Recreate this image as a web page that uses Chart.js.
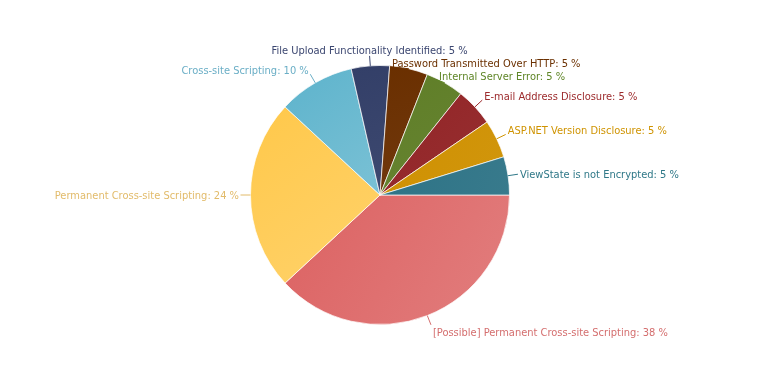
<!DOCTYPE html>
<html>
<head>
<meta charset="utf-8">
<script src="https://cdn.jsdelivr.net/npm/chart.js@4.4.1/dist/chart.umd.min.js"></script>
<style>
    html, body { margin: 0; padding: 0; background: #fff; }
    #wrap { width: 760px; height: 390px; }
</style>
</head>
<body>
<div id="wrap"><canvas id="pieChart" width="760" height="390"></canvas></div>
<script>
// Vulnerability counts, clockwise from 3 o'clock
const categories = [
    '[Possible] Permanent Cross-site Scripting',
    'Permanent Cross-site Scripting',
    'Cross-site Scripting',
    'File Upload Functionality Identified',
    'Password Transmitted Over HTTP',
    'Internal Server Error',
    'E-mail Address Disclosure',
    'ASP.NET Version Disclosure',
    'ViewState is not Encrypted'
];
const counts = [8, 5, 2, 1, 1, 1, 1, 1, 1];
const sliceColors = ['#dc6262', '#ffc84a', '#5db3cc', '#333f68', '#6a2f00', '#5f7e27', '#922426', '#cf9000', '#2d7386'];
const labelColors = ['#d46e6e', '#e2bb6a', '#6aaec6', '#3b4670', '#6b3000', '#5e8526', '#9c2a2c', '#cf9300', '#2f7888'];

const total = counts.reduce((a, b) => a + b, 0);
const percents = counts.map(v => Math.round(v / total * 100));
const FONT = '11px "DejaVu Sans Condensed", "DejaVu Sans", sans-serif';

function lighten(hex, amt) {
    const n = parseInt(hex.slice(1), 16);
    const r = (n >> 16) & 255, g = (n >> 8) & 255, b = n & 255;
    const mix = c => Math.round(c + (255 - c) * amt);
    return 'rgb(' + mix(r) + ',' + mix(g) + ',' + mix(b) + ')';
}

// each slice gets a soft top-left -> bottom-right gradient
function sliceFill(c) {
    const i = c.dataIndex;
    const area = c.chart.chartArea;
    if (!area) return sliceColors[i];
    const cx = (area.left + area.right) / 2, cy = (area.top + area.bottom) / 2;
    const r = Math.min(area.right - area.left, area.bottom - area.top) / 2;
    let before = 0;
    for (let k = 0; k < i; k++) before += counts[k];
    const a0 = before / total * Math.PI * 2;
    const a1 = a0 + counts[i] / total * Math.PI * 2;
    const xs = [cx, cx + Math.cos(a0) * r, cx + Math.cos(a1) * r];
    const ys = [cy, cy + Math.sin(a0) * r, cy + Math.sin(a1) * r];
    for (let q = 0; q < 8; q++) {
        const a = q * Math.PI / 2;
        if (a > a0 && a < a1) { xs.push(cx + Math.cos(a) * r); ys.push(cy + Math.sin(a) * r); }
    }
    const amt = counts[i] / total >= 0.09 ? 0.18 : 0.05;
    const g = c.chart.ctx.createLinearGradient(Math.min(...xs), Math.min(...ys), Math.max(...xs), Math.max(...ys));
    g.addColorStop(0, sliceColors[i]);
    g.addColorStop(1, lighten(sliceColors[i], amt));
    return g;
}

const outsideLabels = {
    id: 'outsideLabels',
    afterDatasetsDraw(chart) {
        const ctx = chart.ctx;
        const meta = chart.getDatasetMeta(0);
        ctx.save();
        ctx.font = FONT;
        const items = meta.data.map((arc, i) => {
            const p = arc.getProps(['x', 'y', 'startAngle', 'endAngle', 'outerRadius'], true);
            const mid = (p.startAngle + p.endAngle) / 2;
            const cos = Math.cos(mid), sin = Math.sin(mid);
            const text = categories[i] + ': ' + percents[i] + ' %';
            const it = {
                i, text, cos, sin, cx: p.x, cy: p.y, r: p.outerRadius,
                w: ctx.measureText(text).width,
                ex: p.x + cos * p.outerRadius, ey: p.y + sin * p.outerRadius,
                lx: p.x + cos * (p.outerRadius + 10), ly: p.y + sin * (p.outerRadius + 10),
                align: Math.abs(cos) < 0.15 ? 'center' : (cos > 0 ? 'left' : 'right')
            };
            if (it.align === 'center') it.by = it.ly - 2;
            else if (sin < -0.3) it.by = it.ly;
            else if (sin > 0.3) it.by = it.ly + 11;
            else it.by = it.ly + 4;
            return it;
        });

        const box = it => {
            const tx = it.align === 'left' ? it.lx + 2 : it.align === 'right' ? it.lx - 1.5 : it.lx;
            const left = it.align === 'left' ? tx : it.align === 'right' ? tx - it.w : tx - it.w / 2;
            return { tx, left, right: left + it.w, top: it.by - 10, bottom: it.by + 3 };
        };
        const hit = (a, b) => a.left < b.right && b.left < a.right && a.top < b.bottom - 0.01 && b.top < a.bottom - 0.01;

        // push overlapping labels down and slide them back onto the rim
        const placed = [];
        items.slice().sort((a, b) => box(a).top - box(b).top).forEach(it => {
            for (let n = 0; n < 10; n++) {
                const other = placed.find(o => hit(box(o), box(it)));
                if (!other) break;
                it.by = box(other).bottom + 10;
                const dy = it.by - it.cy;
                const rm = it.r - 1;
                it.lx = it.cx + Math.sign(it.cos) * Math.sqrt(Math.max(0, rm * rm - dy * dy));
                it.ly = it.by;
            }
            placed.push(it);
        });

        items.forEach(it => {
            const b = box(it);
            ctx.strokeStyle = labelColors[it.i];
            ctx.lineWidth = 1;
            ctx.beginPath();
            ctx.moveTo(it.ex, it.ey);
            ctx.lineTo(it.lx, it.ly);
            ctx.stroke();
            ctx.fillStyle = labelColors[it.i];
            ctx.textAlign = it.align;
            ctx.textBaseline = 'alphabetic';
            ctx.fillText(it.text, b.tx, it.by);
        });
        ctx.restore();
    }
};

const pieChart = new Chart(document.getElementById('pieChart').getContext('2d'), {
    type: 'pie',
    data: {
        labels: categories,
        datasets: [{
            data: counts,
            backgroundColor: sliceFill,
            borderColor: 'rgba(255, 255, 255, 0.7)',
            borderWidth: 1
        }]
    },
    options: {
        responsive: false,
        animation: false,
        rotation: 90,
        layout: { padding: { top: 65, bottom: 65 } },
        plugins: {
            legend: { display: false },
            tooltip: { enabled: false }
        }
    },
    plugins: [outsideLabels]
});
</script>
</body>
</html>
